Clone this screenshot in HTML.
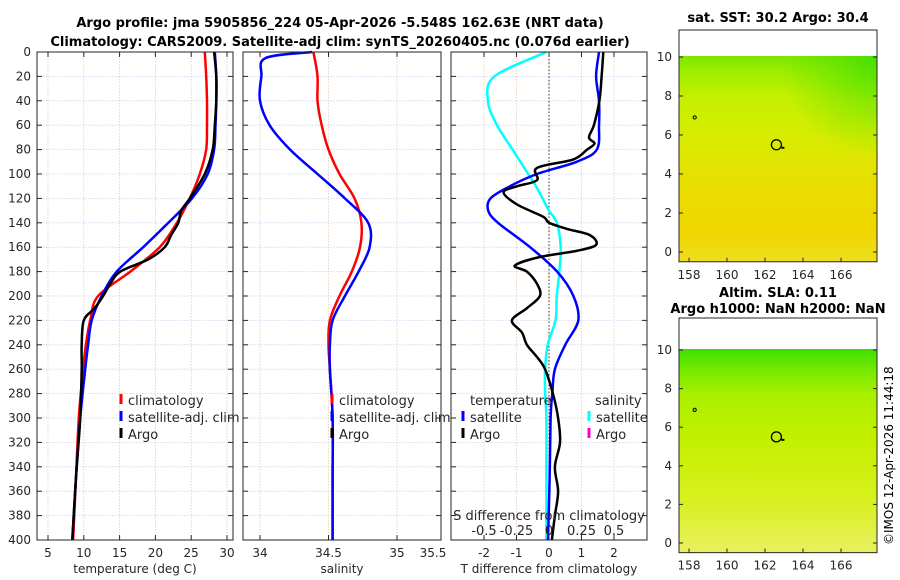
<!DOCTYPE html>
<html><head><meta charset="utf-8"><style>
body{margin:0;background:#fff}
svg{display:block;font-family:"DejaVu Sans","Liberation Sans",sans-serif}
</style></head><body>
<svg id="fig" width="900" height="580" viewBox="0 0 900 580" xmlns="http://www.w3.org/2000/svg">
<defs>
<linearGradient id="gTop" x1="0" y1="0" x2="0" y2="1">
<stop offset="0" stop-color="#7ce600"/><stop offset="0.08" stop-color="#a0ee00"/><stop offset="0.2" stop-color="#c4f000"/><stop offset="0.4" stop-color="#d8ec00"/><stop offset="0.65" stop-color="#eadc00"/><stop offset="0.85" stop-color="#f0d600"/><stop offset="1" stop-color="#eede20"/>
</linearGradient>
<radialGradient id="gCorner" cx="1" cy="0" r="0.5">
<stop offset="0" stop-color="#40e000" stop-opacity="0.9"/><stop offset="1" stop-color="#60e000" stop-opacity="0"/>
</radialGradient>
<linearGradient id="gBot" x1="0" y1="0" x2="0" y2="1">
<stop offset="0" stop-color="#3ee000"/><stop offset="0.1" stop-color="#74e800"/><stop offset="0.22" stop-color="#a8f000"/><stop offset="0.45" stop-color="#c4f000"/><stop offset="0.75" stop-color="#d8f020"/><stop offset="1" stop-color="#e8f060"/>
</linearGradient>
</defs>
<g id="titles">
<text x="340" y="27" text-anchor="middle" font-weight="bold" font-size="13">Argo profile: jma 5905856_224 05-Apr-2026 -5.548S 162.63E (NRT data)</text>
<text x="340" y="46" text-anchor="middle" font-weight="bold" font-size="13">Climatology: CARS2009. Satellite-adj clim: synTS_20260405.nc (0.076d earlier)</text>
<text x="778" y="22" text-anchor="middle" font-weight="bold" font-size="13">sat. SST: 30.2 Argo: 30.4</text>
<text x="778" y="297" text-anchor="middle" font-weight="bold" font-size="13">Altim. SLA: 0.11</text>
<text x="778" y="313" text-anchor="middle" font-weight="bold" font-size="13">Argo h1000: NaN h2000: NaN</text>
<text transform="translate(893,545) rotate(-90)" font-size="12">©IMOS 12-Apr-2026 11:44:18</text>
</g>
<g id="plots"></g>
</svg>
<script>
// depth levels (m)
const depthT = [0,20,40,60,80,100,120,140,160,180,200,220,240,260,300,350,400];
const tempClim = [26.9,27.1,27.2,27.2,27.1,26.2,24.8,23.0,20.6,16.5,12.0,10.9,10.3,9.9,9.3,8.9,8.5];
const tempSat  = [28.3,28.5,28.5,28.4,28.2,27.3,25.1,21.8,18.3,14.6,12.5,11.1,10.6,10.2,9.5,8.9,8.4];
const depthArgoT = [0,20,40,60,80,100,120,130,140,150,160,170,180,190,200,210,220,240,260,300,350,400];
const tempArgo = [28.2,28.5,28.5,28.3,28.0,26.9,24.8,23.6,23.2,22.2,21.3,19.0,15.1,13.7,12.7,11.5,10.0,9.7,9.7,9.5,8.9,8.4];
const salClim = [34.39,34.42,34.42,34.45,34.50,34.58,34.69,34.74,34.73,34.67,34.58,34.51,34.50,34.51,34.53,34.53,34.53];
const depthSat = [0,5,20,40,60,80,100,120,140,160,180,200,220,240,260,300,350,400];
const salSat = [34.38,34.04,34.01,34.0,34.07,34.22,34.42,34.62,34.79,34.80,34.72,34.62,34.53,34.51,34.51,34.53,34.53,34.53];
const depthDiff = [0,20,40,60,80,90,100,110,120,130,140,160,180,200,220,240,260,280,300,350,400];
const tDiffSat = [1.54,1.45,1.54,1.54,1.47,0.85,-0.37,-1.2,-1.8,-1.87,-1.57,-0.58,0.25,0.75,0.9,0.5,0.18,0.1,0.05,0.02,-0.03];
const sDiffSat = [-0.02,-0.42,-0.47,-0.40,-0.28,-0.22,-0.16,-0.10,-0.05,0.0,0.06,0.09,0.08,0.06,0.05,-0.01,-0.03,-0.03,-0.02,-0.02,-0.02];
const depthArgoD = [0,20,40,60,70,75,80,88,95,105,110,115,125,135,140,145,150,158,163,168,175,180,190,200,210,220,230,240,250,260,280,300,320,340,360,380,400];
const tDiffArgo = [1.67,1.62,1.55,1.38,1.23,1.4,1.17,0.75,-0.37,-0.37,-0.98,-1.4,-0.98,-0.18,0.0,0.55,1.25,1.45,0.85,-0.28,-1.05,-0.68,-0.37,-0.28,-0.68,-1.14,-0.83,-0.68,-0.37,-0.12,0.12,0.28,0.34,0.18,0.28,0.18,0.09];
const yTicks = [0,20,40,60,80,100,120,140,160,180,200,220,240,260,280,300,320,340,360,380,400];
const tTicks = [5,10,15,20,25,30];
const sTicks = [34,34.5,35];
const dTTicks = [-2,-1,0,1,2];
const dSTicks = [-0.5,-0.25,0,0.25,0.5];
const dSLabels = ['-0.5','-0.25','0','0.25','0.5'];
const lonTicks = [158,160,162,164,166];
const latTicks = [0,2,4,6,8,10];
const floatLon = 162.6, floatLat = 5.5;

const NS='http://www.w3.org/2000/svg';
const root=document.getElementById('plots');
function el(tag,attrs,parent){const e=document.createElementNS(NS,tag);for(const k in attrs)e.setAttribute(k,attrs[k]);(parent||root).appendChild(e);return e;}
function txt(s,x,y,anchor,parent,size){const t=el('text',{x:x,y:y,'text-anchor':anchor||'middle','font-size':size||12,fill:'#262626'},parent);t.textContent=s;return t;}

const Y0=52,Y1=540;
const yD=d=>Y0+(d/400)*(Y1-Y0);
const xT=t=>48+(t-5)*7.16;
const xS=s=>260+(s-34)*137;
const xDT=v=>549+v*32.5;
const xDS=v=>549+v*130;
const panels=[[37,233],[243,441],[451,647]];

panels.forEach((p,i)=>{
  const g=el('g',{});
  
  
  el('rect',{x:p[0],y:Y0,width:p[1]-p[0],height:Y1-Y0,fill:'#fff'},g);
  yTicks.forEach(d=>{
    el('line',{x1:p[0],x2:p[1],y1:yD(d),y2:yD(d),stroke:'#c8d2f0','stroke-width':0.8,'stroke-dasharray':'1.5,1.5'},g);
    el('line',{x1:p[0],x2:p[0]+5,y1:yD(d),y2:yD(d),stroke:'#262626'},g);
    el('line',{x1:p[1]-5,x2:p[1],y1:yD(d),y2:yD(d),stroke:'#262626'},g);
  });
});
function xgrid(vals,fx){vals.forEach(v=>{const x=fx(v);el('line',{x1:x,x2:x,y1:Y0,y2:Y1,stroke:'#e8c8b0','stroke-width':0.8,'stroke-dasharray':'1.5,1.5'});el('line',{x1:x,x2:x,y1:Y1-5,y2:Y1,stroke:'#262626'});el('line',{x1:x,x2:x,y1:Y0,y2:Y0+5,stroke:'#262626'});});}
xgrid(tTicks,xT);xgrid(sTicks,xS);xgrid(dTTicks,xDT);
el('line',{x1:xDT(0),x2:xDT(0),y1:Y0,y2:Y1,stroke:'#333','stroke-width':1,'stroke-dasharray':'1.5,2'});
yTicks.forEach(d=>txt(String(d),31,yD(d)+4,'end'));
tTicks.forEach(t=>txt(String(t),xT(t),557));
sTicks.forEach(s=>txt(String(s),xS(s),557));
txt('35.5',433,557);
dTTicks.forEach(v=>txt(String(v),xDT(v),557));
txt('temperature (deg C)',135,573);txt('salinity',342,573);txt('T difference from climatology',549,573);

function line(xs,ds,fx,color,name){
  const P=xs.map((v,i)=>[fx(v),yD(ds[i])]);
  let d='M'+P[0][0].toFixed(1)+','+P[0][1].toFixed(1);
  for(let i=0;i<P.length-1;i++){
    const p0=P[i-1]||P[i],p1=P[i],p2=P[i+1],p3=P[i+2]||P[i+1];
    const c1=[p1[0]+(p2[0]-p0[0])/6,p1[1]+(p2[1]-p0[1])/6];
    const c2=[p2[0]-(p3[0]-p1[0])/6,p2[1]-(p3[1]-p1[1])/6];
    d+=' C'+c1.map(v=>v.toFixed(1)).join(',')+' '+c2.map(v=>v.toFixed(1)).join(',')+' '+p2.map(v=>v.toFixed(1)).join(',');
  }
  const pl=el('path',{d:d,fill:'none',stroke:color,'stroke-width':2.5,'stroke-linejoin':'round'});
  
  
}
line(tempClim,depthT,xT,'#ff0000','temp-climatology-line');
line(tempSat,depthT,xT,'#0000ff','temp-satellite-line');
line(tempArgo,depthArgoT,xT,'#000','temp-argo-line');
line(salClim,depthT,xS,'#ff0000','sal-climatology-line');
line(salSat,depthSat,xS,'#0000ff','sal-satellite-line');
line(sDiffSat,depthDiff,xDS,'#00ffff','sdiff-satellite-line');
line(tDiffSat,depthDiff,xDT,'#0000ff','tdiff-satellite-line');
line(tDiffArgo,depthArgoD,xDT,'#000','tdiff-argo-line');

txt('S difference from climatology',549,520,'middle',null,13);
dSTicks.forEach((v,i)=>txt(dSLabels[i],xDS(v),535,'middle',null,13));

function legend(x,y,items,name){
  const g=el('g',{});
  
  
  items.forEach((it,i)=>{
    if(it[1])el('line',{x1:x,x2:x,y1:y+i*17-11,y2:y+i*17-1,stroke:it[1],'stroke-width':3},g);
    txt(it[0],x+7,y+i*17,'start',g,13);
  });
}
legend(121,405,[['climatology','#ff0000'],['satellite-adj. clim','#0000ff'],['Argo','#000']],'legend-temperature');
legend(332,405,[['climatology','#ff0000'],['satellite-adj. clim','#0000ff'],['Argo','#000']],'legend-salinity');
txt('temperature',470,405,'start',null,13);
legend(463,422,[['satellite','#0000ff'],['Argo','#000']],'legend-tdiff');
txt('salinity',595,405,'start',null,13);
legend(589,422,[['satellite','#00ffff'],['Argo','#ff00cc']],'legend-sdiff');

panels.forEach(p=>el('rect',{x:p[0],y:Y0,width:p[1]-p[0],height:Y1-Y0,fill:'none',stroke:'#262626','stroke-width':1}));

const xL=v=>689+(v-158)*19;
function map(top,lat10y,lat0y,grad,name,corner){
  const yL=v=>lat0y+(v)*(lat10y-lat0y)/10;
  const g=el('g',{});
  
  
  const h=yL(-0.5)-lat10y+1;
  el('rect',{x:679,y:lat10y-1,width:198,height:h,fill:'url(#'+grad+')'},g);
  if(corner)el('rect',{x:679,y:lat10y-1,width:198,height:h,fill:'url(#gCorner)'},g);
  el('rect',{x:679,y:top,width:198,height:yL(-0.5)-top,fill:'none',stroke:'#262626'},g);
  latTicks.forEach(v=>{const y=yL(v);txt(String(v),672,y+4,'end',g);el('line',{x1:679,x2:683,y1:y,y2:y,stroke:'#262626'},g);el('line',{x1:873,x2:877,y1:y,y2:y,stroke:'#262626'},g);});
  lonTicks.forEach(v=>{const x=xL(v);txt(String(v),x,yL(-0.5)+17,'middle',g);el('line',{x1:x,x2:x,y1:yL(-0.5)-4,y2:yL(-0.5),stroke:'#262626'},g);});
  const c=el('circle',{cx:xL(floatLon),cy:yL(floatLat),r:5,fill:'none',stroke:'#000','stroke-width':1.3},g);
  
  
  el('rect',{x:xL(floatLon)+5,y:yL(floatLat)+2,width:3,height:2,fill:'#000'},g);
  el('circle',{cx:xL(158.3),cy:yL(6.9),r:1.6,fill:'none',stroke:'#000'},g);
}
map(30,57,252,'gTop','sst-map',true);
map(318,350,543,'gBot','sla-map',false);
</script>
</body></html>
